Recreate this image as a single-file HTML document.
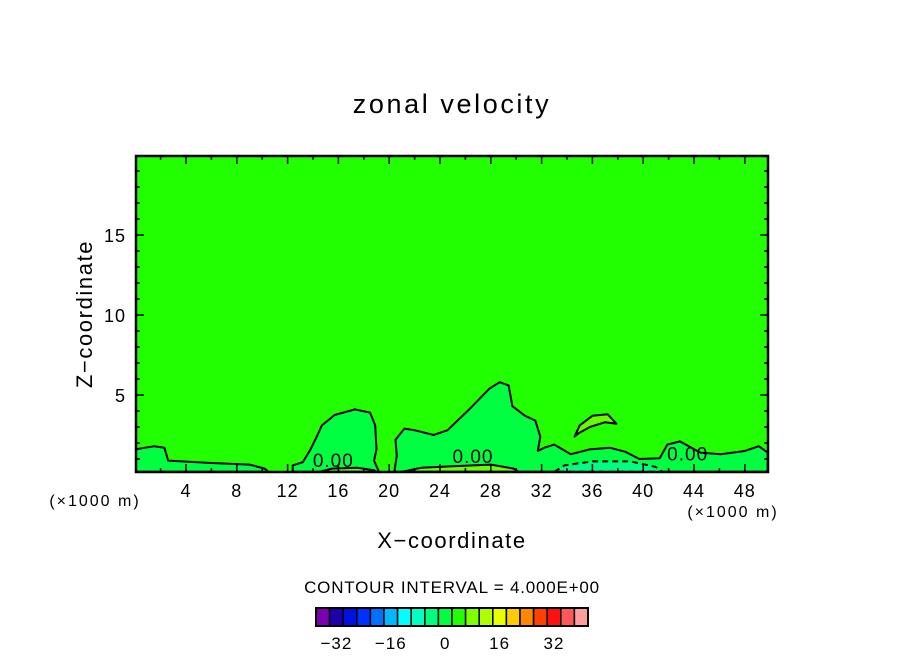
<!DOCTYPE html>
<html><head><meta charset="utf-8"><style>
body{margin:0;background:#fff;}
svg text{font-family:"Liberation Sans",sans-serif;fill:#000;}
</style></head><body>
<svg id="chart" width="904" height="654" viewBox="0 0 904 654" xmlns="http://www.w3.org/2000/svg">
<text x="452" y="113" font-size="27" text-anchor="middle" letter-spacing="2.6">zonal velocity</text>
<g id="plot"></g>
<text transform="translate(92,314) rotate(-90)" font-size="22" text-anchor="middle" letter-spacing="1.6">Z−coordinate</text>
<text x="452" y="548" font-size="22" text-anchor="middle" letter-spacing="1.6">X−coordinate</text>
<text x="95" y="506" font-size="16" text-anchor="middle" letter-spacing="2">(×1000 m)</text>
<text x="733" y="517" font-size="16" text-anchor="middle" letter-spacing="2">(×1000 m)</text>
<text x="452" y="593" font-size="17" text-anchor="middle" letter-spacing="0.8">CONTOUR INTERVAL = 4.000E+00</text>
<g id="cbar"></g>
</svg>
<script>
const xTicks=[4,8,12,16,20,24,28,32,36,40,44,48];
const zTicks=[5,10,15];
const cbarColors=["#7a00b0","#1e00a8","#0010e0","#0030ff","#0070ff","#00b8ff","#00ffff","#00ffc0","#00ff80","#00ff40","#22ff00","#80ff00","#b0ff00","#e8ff00","#ffcc00","#ff8800","#ff4000","#ff1010","#ff5858","#ff9c9c"];
const cbarTicks=[-32,-16,0,16,32];
const cbarValues=[-38,-34,-30,-26,-22,-18,-14,-10,-6,-2,2,6,10,14,18,22,26,30,34,38];
const stripLeft=[[0,0.2],[0,1.6],[1.5,1.8],[2.3,1.7],[2.6,0.9],[6,0.75],[9,0.65],[10.2,0.4],[10.5,0.2]];
const blob16=[[12.4,0.2],[12.4,0.6],[13.2,0.8],[13.8,1.6],[14.3,2.4],[14.7,3.1],[15.7,3.75],[17.3,4.1],[18.5,3.9],[18.9,3.1],[19.0,1.6],[18.8,0.9],[19.2,0.2]];
const blob28=[[20.4,0.2],[20.6,1.2],[20.5,2.2],[21.2,2.9],[22.0,2.8],[23.5,2.5],[24.6,2.8],[26.3,4.1],[27.9,5.4],[28.7,5.8],[29.4,5.6],[29.7,4.3],[30.7,3.7],[31.5,3.4],[31.9,2.4],[31.7,1.5],[32.2,1.7],[33.0,1.9],[34.3,1.3],[35.8,1.6],[37.4,1.7],[38.6,1.45],[39.7,1.0],[41.3,1.05],[41.9,1.9],[42.9,2.1],[44.5,1.4],[46.1,1.3],[48.0,1.5],[49.1,1.8],[49.8,1.4],[49.8,0.2]];
const yellowGreen1=[[14.5,0.2],[15.5,0.4],[17.5,0.45],[18.8,0.3],[19.0,0.2]];
const yellowGreen2=[[21.0,0.2],[22.5,0.45],[25,0.55],[28,0.65],[29.8,0.4],[30.2,0.2]];
const crescent=[[34.6,2.4],[35.0,3.1],[36.0,3.7],[37.2,3.8],[37.9,3.2],[37.0,3.3],[35.8,3.0],[34.9,2.6]];
const cyanPatch=[[33.0,0.2],[33.8,0.6],[36,0.85],[39,0.85],[41.0,0.5],[41.5,0.2]];
const zeroLabels=[[15.6,0.95],[26.6,1.2],[43.5,1.35]];
const X0=135.2,XS=12.7,Z0=475,ZS=16;
const L=136,R=768,T=156,B=472;
function sx(x){return X0+x*XS;}
function sz(z){return Z0-z*ZS;}
const NS="http://www.w3.org/2000/svg";
const plot=document.getElementById('plot');
function mk(tag,attrs,parent){const e=document.createElementNS(NS,tag);for(const k in attrs)e.setAttribute(k,attrs[k]);parent.appendChild(e);return e;}
const clip=mk('clipPath',{id:'pc'},plot);mk('rect',{x:L,y:T,width:R-L,height:B-T},clip);
let bg=mk('rect',{x:L,y:T,width:R-L,height:B-T,fill:'#22ff00'},plot);


const g=mk('g',{'clip-path':'url(#pc)'},plot);
function poly(pts,fill,name,dash){
 const d=pts.map((p,i)=>(i?'L':'M')+sx(p[0]).toFixed(1)+','+sz(p[1]).toFixed(1)).join('')+'Z';
 const e=mk('path',{d:d,fill:fill,stroke:'#000','stroke-width':2,'stroke-linejoin':'round'},g);
 if(dash)e.setAttribute('stroke-dasharray','6,4');
 
 
}
poly(stripLeft,'#00ff40','contour-region-left');
poly(blob16,'#00ff40','contour-region-x16');
poly(blob28,'#00ff40','contour-region-x28');
poly(yellowGreen1,'#66ff00','contour-positive-x16');
poly(yellowGreen2,'#66ff00','contour-positive-x26');
poly(crescent,'#66ff00','contour-positive-crescent');
poly(cyanPatch,'#00ff80','contour-negative-x36',true);
zeroLabels.forEach(p=>{
 const t=mk('text',{x:sx(p[0]),y:sz(p[1])+7,'font-size':19,'text-anchor':'middle','letter-spacing':1},g);
 t.textContent='0.00';
 
 
});
let fr=mk('rect',{x:L,y:T,width:R-L,height:B-T,fill:'none',stroke:'#000','stroke-width':2.5},plot);


for(let x=2;x<50;x+=2){
 const len=(x%4===0)?8:4;
 mk('line',{x1:sx(x),x2:sx(x),y1:B,y2:B-len,stroke:'#000','stroke-width':1.5},plot);
 mk('line',{x1:sx(x),x2:sx(x),y1:T,y2:T+len,stroke:'#000','stroke-width':1.5},plot);
}
for(let z=1;z<20;z++){
 const len=(z%5===0)?8:4;
 mk('line',{x1:L,x2:L+len,y1:sz(z),y2:sz(z),stroke:'#000','stroke-width':1.5},plot);
 mk('line',{x1:R,x2:R-len,y1:sz(z),y2:sz(z),stroke:'#000','stroke-width':1.5},plot);
}
xTicks.forEach(v=>{const t=mk('text',{x:sx(v),y:497,'font-size':18,'text-anchor':'middle','letter-spacing':1},plot);t.textContent=v;
 
 });
zTicks.forEach(v=>{const t=mk('text',{x:126,y:sz(v)+7,'font-size':18,'text-anchor':'end','letter-spacing':1},plot);t.textContent=v;
 
 });
const cb=document.getElementById('cbar');
const CL=316,CW=13.6,CT=608,CH=18;
function cbx(v){return CL+(v-cbarValues[0]+2)/4*CW;}
cbarValues.forEach((v,i)=>{const r=mk('rect',{x:cbx(v)-CW/2,y:CT,width:CW,height:CH,fill:cbarColors[i],stroke:'#000','stroke-width':1.5},cb);
 
 });
mk('rect',{x:CL,y:CT,width:CW*cbarValues.length,height:CH,fill:'none',stroke:'#000','stroke-width':2},cb);
cbarTicks.forEach(v=>{const t=mk('text',{x:cbx(v)-CW/2,y:649,'font-size':17,'text-anchor':'middle','letter-spacing':1},cb);t.textContent=(v<0?'−'+(-v):v);
 
 });
</script>
</body></html>
